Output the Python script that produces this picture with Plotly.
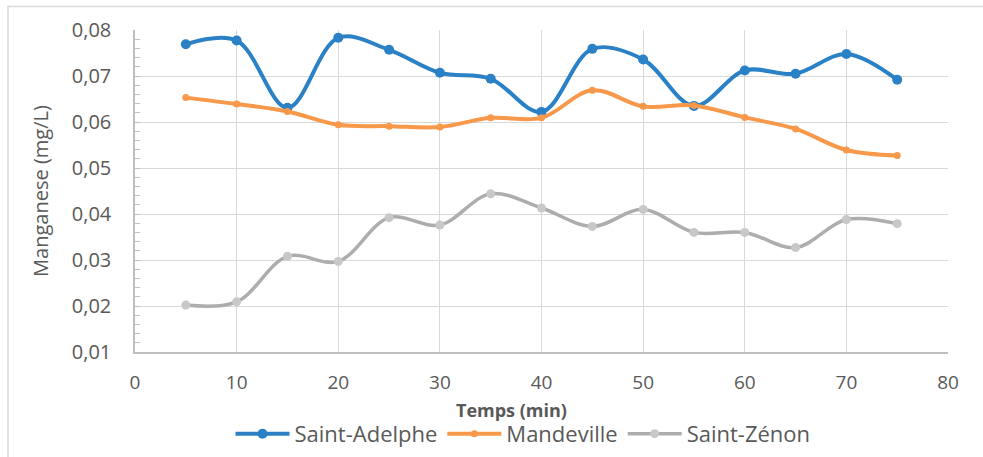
import plotly.graph_objects as go

temps = [5, 10, 15, 20, 25, 30, 35, 40, 45, 50, 55, 60, 65, 70, 75]
saint_adelphe = [0.0769, 0.0777, 0.0631, 0.0783, 0.0757, 0.0707, 0.0694, 0.0622,
                 0.0759, 0.0736, 0.0635, 0.0712, 0.0705, 0.0748, 0.0692]
mandeville = [0.0653, 0.0639, 0.0623, 0.0594, 0.0591, 0.0589, 0.0609, 0.0609,
              0.0669, 0.0634, 0.0636, 0.0610, 0.0585, 0.0539, 0.0527]
saint_zenon = [0.0202, 0.0209, 0.0308, 0.0297, 0.0392, 0.0376, 0.0444, 0.0413,
               0.0373, 0.0410, 0.0360, 0.0360, 0.0327, 0.0388, 0.0379]

series_names = ["Saint-Adelphe", "Mandeville", "Saint-Zénon"]

W, H = 983, 457
L, R, T, B = 135, 35, 29.5, 105
pw, ph = W - L - R, H - T - B

def px_x(x):
    return (x - L) / pw

def px_y(y):
    return (H - B - y) / ph

FONT = "Open Sans"
TXT = "#595959"

fig = go.Figure()
fig.add_trace(go.Scatter(x=temps, y=saint_adelphe, name=series_names[0], mode="lines+markers",
                         line=dict(color="#2A81C6", width=4, shape="spline", smoothing=1),
                         marker=dict(color="#2A81C6", size=10)))
fig.add_trace(go.Scatter(x=temps, y=mandeville, name=series_names[1], mode="lines+markers",
                         line=dict(color="#F7984A", width=4, shape="spline", smoothing=1),
                         marker=dict(color="#F7984A", size=7)))
fig.add_trace(go.Scatter(x=temps, y=saint_zenon, name=series_names[2], mode="lines+markers",
                         line=dict(color="#ADADAD", width=3.5, shape="spline", smoothing=1),
                         marker=dict(color="#C8C8C8", size=9)))

fig.update_layout(
    width=W, height=H,
    margin=dict(l=L, r=R, t=T, b=B, pad=0, autoexpand=False),
    paper_bgcolor="white", plot_bgcolor="white",
    separators=", ",
    font=dict(family=FONT, size=20, color=TXT),
    showlegend=True,
    legend=dict(orientation="h", x=px_x(523), xanchor="center", y=px_y(434), yanchor="middle",
                font=dict(family=FONT, size=22, color=TXT), bgcolor="rgba(0,0,0,0)",
                itemwidth=54, tracegroupgap=0),
    xaxis=dict(range=[0, 80], dtick=10, tick0=0, showgrid=True, gridcolor="#D9D9D9", gridwidth=1.3,
               zeroline=False, showline=True, linecolor="#BFBFBF", linewidth=1.5,
               ticks="", ticklabelstandoff=12,
               tickfont=dict(family=FONT, size=19, color=TXT)),
    yaxis=dict(range=[0.01, 0.08], dtick=0.01, tick0=0, tickformat=".2f", showgrid=True,
               gridcolor="#D9D9D9", gridwidth=1.3, zeroline=False, showline=True,
               linecolor="#BFBFBF", linewidth=1.5, ticks="inside", ticklen=5, tickcolor="#BFBFBF",
               ticklabelstandoff=18,
               minor=dict(dtick=0.002, ticks="inside", ticklen=5, tickcolor="#BFBFBF", showgrid=False),
               tickfont=dict(family=FONT, size=20, color=TXT),
               title=dict(text="Manganese (mg/L)", font=dict(family=FONT, size=20, color=TXT),
                          standoff=18)),
    annotations=[dict(text="<b>Temps (min)</b>", xref="paper", yref="paper",
                      x=px_x(511), y=px_y(410), xanchor="center", yanchor="middle",
                      showarrow=False, font=dict(family=FONT, size=18, color=TXT))],
    shapes=[dict(type="rect", xref="paper", yref="paper",
                 x0=px_x(8), x1=px_x(1000), y0=px_y(470), y1=px_y(6),
                 line=dict(color="#D9D9D9", width=1.5), fillcolor="rgba(0,0,0,0)", layer="below")],
)

fig.write_html("out.html")
